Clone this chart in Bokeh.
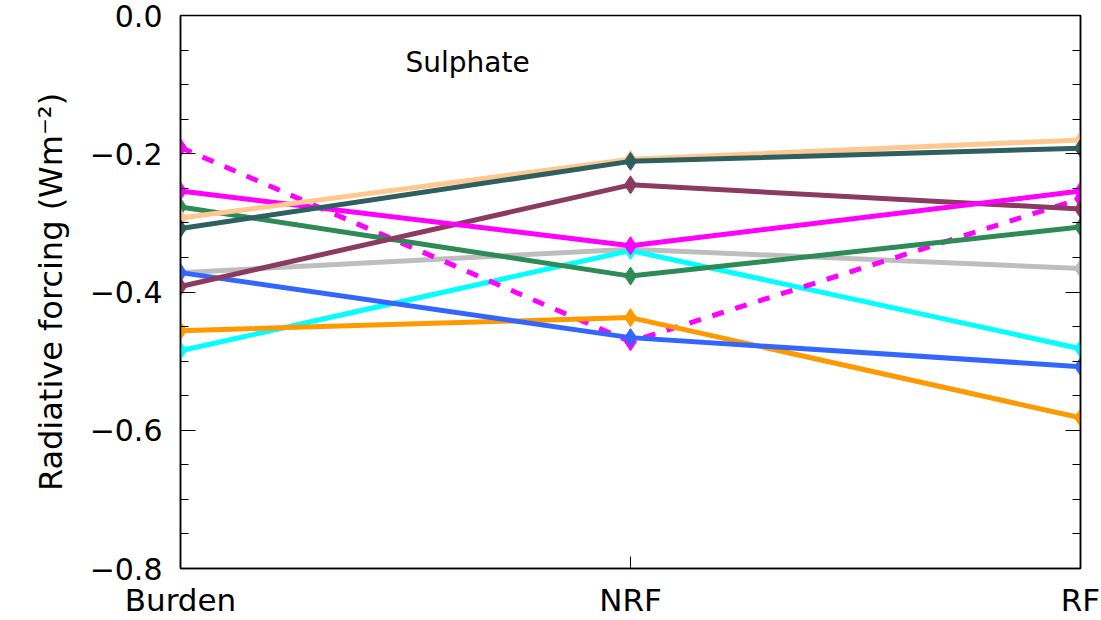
from bokeh.plotting import figure
from bokeh.models import (Range1d, FixedTicker, SingleIntervalTicker, LinearAxis,
                          CustomJSTickFormatter, Label)
from bokeh.embed import file_html
from bokeh.resources import INLINE

categories = ["Burden", "NRF", "RF"]

# series values (W m^-2) at Burden, NRF, RF
gray_vals      = [-0.372, -0.338, -0.366]
cyan_vals      = [-0.485, -0.340, -0.482]
magdash_vals   = [-0.191, -0.472, -0.265]
orange_vals    = [-0.456, -0.437, -0.582]
blue_vals      = [-0.372, -0.466, -0.508]
green_vals     = [-0.277, -0.377, -0.306]
maroon_vals    = [-0.392, -0.245, -0.280]
magenta_vals   = [-0.254, -0.333, -0.254]
peach_vals     = [-0.293, -0.208, -0.180]
slate_vals     = [-0.308, -0.211, -0.192]

series = [
    (gray_vals,    "#BEBEBE", "solid"),
    (cyan_vals,    "#00FFFF", "solid"),
    (magdash_vals, "#FF00FF", "12 12"),
    (orange_vals,  "#FF9900", "solid"),
    (blue_vals,    "#3366FF", "solid"),
    (green_vals,   "#2E8B57", "solid"),
    (maroon_vals,  "#8B3A62", "solid"),
    (magenta_vals, "#FF00FF", "solid"),
    (peach_vals,   "#FFC890", "solid"),
    (slate_vals,   "#2F5F5F", "solid"),
]

xs = list(range(len(categories)))

FONT = "DejaVu Sans"

p = figure(width=1100, height=620, output_backend="svg", toolbar_location=None,
           x_range=Range1d(0, 2), y_range=Range1d(-0.8, 0.0),
           min_border_left=180, min_border_right=20, min_border_top=15,
           min_border_bottom=50)
p.grid.visible = False
p.outline_line_color = "black"
p.outline_line_width = 1.5
p.background_fill_color = "white"

for vals, col, dash in series:
    p.line(xs, vals, line_color=col, line_width=5, line_dash=dash)
    p.scatter(xs, vals, marker="diamond", size=18, fill_color=col, line_color=col)

# x axis
xa = p.xaxis[0]
xa.ticker = FixedTicker(ticks=xs)
xa.major_label_overrides = {i: c for i, c in enumerate(categories)}
xa.major_label_text_font = FONT
xa.major_label_text_font_size = "31px"
xa.major_label_text_color = "black"
xa.major_tick_in = 12
xa.major_tick_out = 0
xa.minor_tick_line_color = None
xa.major_label_standoff = 13
xa.axis_line_color = "black"
xa.axis_line_width = 1.5

fmt = CustomJSTickFormatter(code="""
    var s = Math.abs(tick) < 1e-9 ? "0.0" : tick.toFixed(1);
    return s.replace('-', '\u2212');
""")

ya = p.yaxis[0]
ya.ticker = SingleIntervalTicker(interval=0.2, num_minor_ticks=4)
ya.formatter = fmt
ya.major_label_text_font = FONT
ya.major_label_text_font_size = "30px"
ya.major_label_text_color = "black"
ya.major_tick_in = 15
ya.major_tick_out = 0
ya.minor_tick_in = 8
ya.minor_tick_out = 0
ya.major_label_standoff = 18
ya.axis_line_color = "black"
ya.axis_line_width = 1.5
ya.axis_label = "Radiative forcing (Wm\u207b\u00b2)"
ya.axis_label_text_font = FONT
ya.axis_label_text_font_size = "32px"
ya.axis_label_text_font_style = "normal"
ya.axis_label_text_color = "black"
ya.axis_label_standoff = 17

ra = LinearAxis(ticker=SingleIntervalTicker(interval=0.2, num_minor_ticks=4),
                formatter=CustomJSTickFormatter(code="return '';"))
ra.major_label_text_font_size = "1px"
ra.major_label_standoff = 0
ra.major_tick_in = 15
ra.major_tick_out = 0
ra.minor_tick_in = 8
ra.minor_tick_out = 0
ra.axis_line_color = "black"
ra.axis_line_width = 1.5
p.add_layout(ra, "right")

p.add_layout(Label(x=0.5, y=-0.068, text="Sulphate", text_font=FONT,
                   text_font_size="28px", text_color="black",
                   text_baseline="alphabetic", text_align="left"))

open("out.html", "w").write(file_html(p, INLINE))
